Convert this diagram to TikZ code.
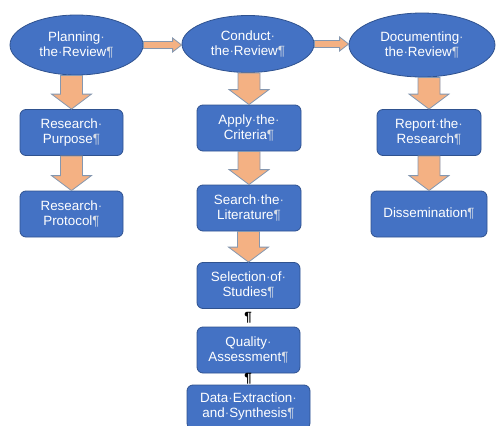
\documentclass[tikz,border=0pt]{standalone}
\usepackage{fontspec}
\setmainfont{Liberation Sans}
\usepackage{tikz}
\usetikzlibrary{shapes.geometric,calc}

\definecolor{boxfill}{HTML}{4472C4}
\definecolor{boxline}{HTML}{2F528F}
\definecolor{arrowfill}{HTML}{F4B183}
\definecolor{arrowline}{HTML}{8497B0}
\definecolor{markc}{HTML}{D6DCE5}

\newcommand{\md}{{\color{markc}·}}
\newcommand{\pil}{{\color{markc}¶}}

% block arrow going down from #1 to #2
\newcommand{\flowdown}[2]{%
  \path let \p1=(#1.south), \p2=(#2.north) in
    [fill=arrowfill, draw=arrowline, line width=0.8pt]
    (\x2-11pt,\y1) -- (\x2+11pt,\y1) -- (\x2+11pt,\y2+15pt) -- (\x2+20pt,\y2+15pt)
    -- (\x2,\y2) -- (\x2-20pt,\y2+15pt) -- (\x2-11pt,\y2+15pt) -- cycle;}
% block arrow going right from #1 to #2
\newcommand{\flowright}[2]{%
  \path let \p1=(#1.east), \p2=(#2.west) in
    [fill=arrowfill, draw=arrowline, line width=0.8pt]
    (\x1,\y1+3.5pt) -- (\x2-9pt,\y1+3.5pt) -- (\x2-9pt,\y1+7pt) -- (\x2,\y1)
    -- (\x2-9pt,\y1-7pt) -- (\x2-9pt,\y1-3.5pt) -- (\x1,\y1-3.5pt) -- cycle;}

\begin{document}
\begin{tikzpicture}[x=1pt,y=-1pt,
    font=\fontsize{13.4}{15}\selectfont,
    phase/.style={ellipse,fill=boxfill,draw=boxline,line width=0.8pt,
        text=white,align=center,inner sep=0pt},
    task/.style={rectangle,rounded corners=6pt,fill=boxfill,draw=boxline,
        line width=0.8pt,text=white,align=center,inner sep=0pt,
        minimum width=103pt,minimum height=46pt},
    pilmark/.style={inner sep=0pt,font=\fontsize{13.4}{15}\selectfont\bfseries}]
    \useasboundingbox (0,0) rectangle (496,426);

    % top row
    \node[phase,minimum width=133pt,minimum height=60pt] (plan) at (76.5,45)
        {Planning\md\\the\md Review\pil};
    \node[phase,minimum width=132pt,minimum height=57pt] (conduct) at (248,44)
        {Conduct\md\\the\md Review\pil};
    \node[phase,minimum width=146pt,minimum height=64pt] (document) at (422,45)
        {Documenting\md\\the\md Review\pil};

    % left column
    \node[task] (purpose) at (71.5,132.5) {Research\md\\Purpose\pil};
    \node[task] (protocol) at (71.5,214) {Research\md\\Protocol\pil};

    % middle column
    \node[task,minimum width=104pt] (criteria) at (249,128) {Apply\md the\md\\Criteria\pil};
    \node[task,minimum width=104pt] (literature) at (249,208) {Search\md the\md\\Literature\pil};
    \node[task] (selection) at (248.5,285.5) {Selection\md of\md\\Studies\pil};
    \node[task] (quality) at (248.5,350) {Quality\md\\Assessment\pil};
    \node[task,minimum width=123pt,minimum height=44pt] (extraction) at (248.5,407)
        {Data\md Extraction\md\\and\md Synthesis\pil};

    % right column
    \node[task,minimum width=104pt] (report) at (429,132.5) {Report\md the\md\\Research\pil};
    \node[task,minimum width=116pt] (dissem) at (429,214) {Dissemination\pil};

    % stray marks between boxes
    \node[pilmark] (mark1) at (248,318) {¶};
    \node[pilmark] (mark2) at (248,379) {¶};

    \flowright{plan}{conduct}
    \flowright{conduct}{document}
    \flowdown{plan}{purpose}
    \flowdown{purpose}{protocol}
    \flowdown{conduct}{criteria}
    \flowdown{criteria}{literature}
    \flowdown{literature}{selection}
    \flowdown{document}{report}
    \flowdown{report}{dissem}
\end{tikzpicture}
\end{document}
